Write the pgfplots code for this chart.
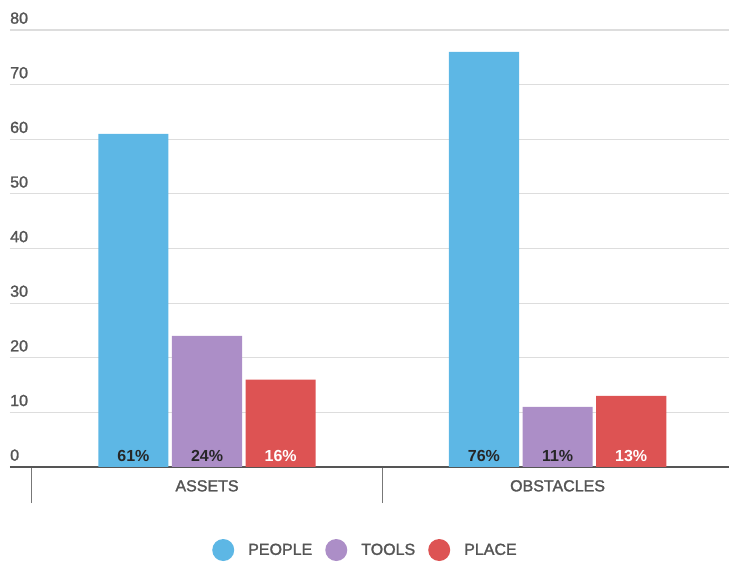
\documentclass[border=0pt]{standalone}
\usepackage{fontspec}
\setmainfont{Liberation Sans}
\newfontfamily\medfont[FakeBold=1.6]{Liberation Sans}
\usepackage{pgfplots}
\pgfplotsset{compat=1.18}
\definecolor{cpeople}{HTML}{5DB7E5}
\definecolor{ctools}{HTML}{AC8EC7}
\definecolor{cplace}{HTML}{DD5353}
\definecolor{txt}{HTML}{555555}
\definecolor{grd}{HTML}{DDDDDD}
\definecolor{axl}{HTML}{555555}
\newcommand{\lblfont}{\fontsize{16}{19}\selectfont}
\begin{document}
\begin{tikzpicture}
\begin{axis}[
  at={(10pt,98pt)}, anchor=south west,
  scale only axis, width=719pt, height=437pt,
  xmin=-0.562, xmax=1.489, ymin=0, ymax=80,
  axis x line*=bottom, axis y line*=left,
  y axis line style={draw=none},
  x axis line style={line width=2pt, color=axl},
  ytick={0,10,...,80}, ymajorgrids,
  major grid style={grd, line width=1.2pt},
  ytick style={draw=none},
  /pgf/number format/assume math mode=true,
  yticklabel style={anchor=south west, inner sep=0pt, yshift=6pt, font=\lblfont\medfont, text=txt},
  xtick={-0.5,0.5,1.5}, xticklabels={}, xtick align=outside,
  xtick style={line width=1pt, color=axl!80},
  major tick length=36pt,
  extra x ticks={0,1}, extra x tick labels={ASSETS,OBSTACLES},
  extra x tick style={major tick length=0pt, grid=none},
  xticklabel style={anchor=north, inner sep=0pt, yshift=-13pt, font=\lblfont\medfont, text=txt},
  legend style={at={(0.493,-0.19)}, anchor=center, draw=none, fill=none,
    legend columns=-1, font=\lblfont\medfont, text=txt,
    /tikz/every even column/.append style={column sep=13pt},
    /tikz/every odd column/.append style={column sep=14pt},
    nodes={inner sep=0pt}},
]
\addplot[ybar, bar width=0.2, bar shift=0pt, fill=cpeople, draw=none,
  legend image code/.code={\fill[cpeople] (11pt,0pt) circle (11pt);}]
  coordinates {(-0.21,61) (0.79,76)};
\addplot[ybar, bar width=0.2, bar shift=0pt, fill=ctools, draw=none,
  legend image code/.code={\fill[ctools] (11pt,0pt) circle (11pt);}]
  coordinates {(0,24) (1,11)};
\addplot[ybar, bar width=0.2, bar shift=0pt, fill=cplace, draw=none,
  legend image code/.code={\fill[cplace] (11pt,0pt) circle (11pt);}]
  coordinates {(0.21,16) (1.21,13)};
\legend{PEOPLE,TOOLS,PLACE}
\addplot[draw=none, forget plot, nodes near coords, point meta=explicit symbolic,
  nodes near coords style={anchor=base, inner sep=0pt, yshift=5pt, font=\lblfont\bfseries, text=black!85}]
  coordinates {(-0.21,0) [61\%] (0,0) [24\%] (0.79,0) [76\%] (1,0) [11\%]};
\addplot[draw=none, forget plot, nodes near coords, point meta=explicit symbolic,
  nodes near coords style={anchor=base, inner sep=0pt, yshift=5pt, font=\lblfont\bfseries, text=white}]
  coordinates {(0.21,0) [16\%] (1.21,0) [13\%]};
\end{axis}
\pgfresetboundingbox
\path[use as bounding box] (0pt,0pt) rectangle (729pt,565pt);
\end{tikzpicture}
\end{document}
